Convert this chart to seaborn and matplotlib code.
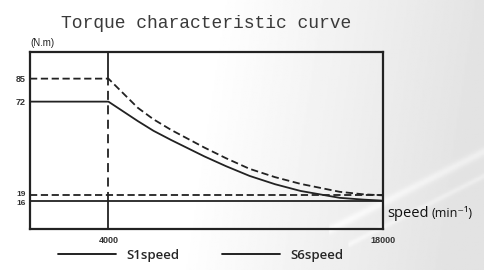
import numpy as np
import pandas as pd
import seaborn as sns
import matplotlib.pyplot as plt
from matplotlib.lines import Line2D
from matplotlib.transforms import ScaledTranslation

# Speed (min-1) and torque (N.m)
speed = [0, 4000, 5500, 6300, 7200, 8900, 10000, 11200, 12500, 13800, 15800, 17000, 18000]
s1_torque = [72, 72, 61, 55.5, 50.3, 41, 35.5, 30, 25.3, 21.5, 17.6, 16.6, 16]
s6_torque = [85, 85, 68.5, 62, 56, 46, 40, 34, 29.3, 25.5, 21, 19.6, 19]
s1_cont = 16
s6_cont = 19
base_speed = 4000
x_ticks = [4000, 18000]
y_ticks = [85, 72, 19, 16]

sns.set_theme(style="white")
plt.rcParams['font.family'] = ['Liberation Sans', 'DejaVu Sans']

fig = plt.figure(figsize=(4.84, 2.7), dpi=100)

# light diagonal gradient background
bg = fig.add_axes([0, 0, 1, 1], zorder=-10)
gx, gy = np.meshgrid(np.linspace(0, 1, 300), np.linspace(0, 1, 200))
shade = 1 - 0.11 * np.clip((gx - 0.45) * 1.8 + gy * 0.15, 0, 1)
stripe = np.exp(-((gx + gy * 1.1 - 1.62) / 0.018) ** 2) * 0.05 * (gx > 0.68)
stripe += np.exp(-((gx + gy * 1.1 - 1.72) / 0.012) ** 2) * 0.04 * (gx > 0.72)
img = np.clip(shade + stripe, 0, 1)
bg.imshow(img, cmap="gray", vmin=0, vmax=1, aspect="auto", extent=[0, 1, 0, 1])
bg.axis("off")

ax = fig.add_axes([0.062, 0.152, 0.729, 0.655])
ax.patch.set_alpha(0)

df = pd.DataFrame({"speed": speed + speed,
                   "torque": s1_torque + s6_torque,
                   "mode": ["S1"] * len(speed) + ["S6"] * len(speed)})
sns.lineplot(data=df, x="speed", y="torque", style="mode",
             dashes={"S1": "", "S6": (4, 2)}, color="#222222",
             linewidth=1.3, legend=False, ax=ax)

ax.axhline(s1_cont, color="#222222", lw=1.3)
ax.axhline(s6_cont, color="#222222", lw=1.3, dashes=(4, 2))
ax.plot([base_speed, base_speed], [s6_torque[1], 100], color="#222222", lw=1.3)
ax.plot([base_speed, base_speed], [s1_cont, s6_torque[1]], color="#222222", lw=1.3, dashes=(5, 3))
ax.plot([base_speed, base_speed], [0, s1_cont], color="#222222", lw=1.3)

ax.set_xlim(0, 18000)
ax.set_ylim(0, 100)
tick_font = {"family": ["Liberation Sans Narrow", "Liberation Sans"], "weight": "bold", "size": 6.5}
ax.set_xticks(x_ticks)
ax.set_xticklabels([str(v) for v in x_ticks], color="#333333", **tick_font)
ax.set_yticks(y_ticks)
ax.set_yticklabels([str(v) for v in y_ticks], color="#333333", **tick_font)
ax.tick_params(axis="y", length=0, pad=3)
ax.tick_params(axis="x", length=0, pad=5)
# 19 and 16 sit close together: nudge them apart a little
labs = ax.get_yticklabels()
labs[2].set_transform(labs[2].get_transform() + ScaledTranslation(0, 1.5 / 72, fig.dpi_scale_trans))
labs[3].set_transform(labs[3].get_transform() + ScaledTranslation(0, -1.5 / 72, fig.dpi_scale_trans))
for lab in labs[2:]:
    lab.set_fontsize(6)
ax.set_xlabel("")
ax.set_ylabel("")
for s in ax.spines.values():
    s.set_color("#222222")
    s.set_linewidth(1.6)

fig.text(0.425, 0.912, "Torque characteristic curve", fontsize=13,
         family=["Liberation Mono", "DejaVu Sans Mono"], ha="center", va="center", color="#3a3a3a")
fig.text(0.062, 0.842, "(N.m)", fontsize=7, ha="left", va="center", color="#222222")
fig.text(0.8, 0.21, "speed", fontsize=10.5, family=["Open Sans", "DejaVu Sans"],
         ha="left", va="center", color="#111111")
fig.text(0.892, 0.21, "(min\u207b\u00b9)", fontsize=9, family=["Open Sans", "DejaVu Sans"],
         ha="left", va="center", color="#111111")

handles = [Line2D([], [], color="#111111", lw=1.3), Line2D([], [], color="#111111", lw=1.3)]
fig.legend(handles, ["S1speed", "S6speed"], loc="center", bbox_to_anchor=(0.415, 0.055),
           ncol=2, frameon=False, handlelength=4.4, columnspacing=3.2,
           prop={"family": "Open Sans", "size": 9.5, "weight": "semibold"})

fig.savefig("out.png", dpi=100)
